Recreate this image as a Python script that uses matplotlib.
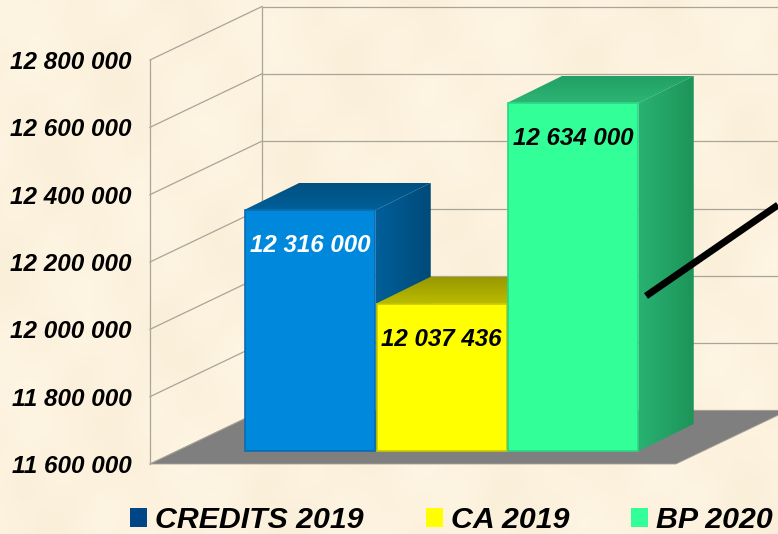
import numpy as np
import matplotlib
matplotlib.use('Agg')
import matplotlib.pyplot as plt
from matplotlib.patches import Polygon, Patch

categories = ['CREDITS 2019', 'CA 2019', 'BP 2020']
values = [12316000, 12037436, 12634000]
tick_values = [11600000, 11800000, 12000000, 12200000, 12400000, 12600000, 12800000]
tick_labels = ['11 600 000', '11 800 000', '12 000 000', '12 200 000', '12 400 000', '12 600 000', '12 800 000']
value_labels = ['12 316 000', '12 037 436', '12 634 000']
label_colors = ['white', 'black', 'black']
front_colors = ['#0088DD', '#FFFF00', '#33FF99']
legend_colors = ['#004586', '#FFFF00', '#33FF99']
edge_colors = ['#0A6CAF', '#C9C900', '#2BD684']
top_colors = [('#00507F', '#005F9A'), ('#989800', '#BBBB00'), ('#22A065', '#2DB575')]
side_colors = [('#005F9A', '#004A78'), ('#A8A800', '#909000'), ('#28B272', '#1E9459')]

W, H = 778, 534
plt.rcParams['font.family'] = ['Liberation Sans', 'DejaVu Sans']
plt.rcParams['font.weight'] = 'bold'
plt.rcParams['font.style'] = 'italic'

fig = plt.figure(figsize=(W / 100, H / 100), dpi=100)

# fond parchemin, juste des ondes douces
yy, xx = np.mgrid[0:H, 0:W]
tex = (np.sin(xx / 37.0 + yy / 53.0) + np.sin(xx / 19.0 - yy / 29.0 + 1.3)
       + 0.7 * np.sin(xx / 11.0 + yy / 13.0) * np.sin(yy / 41.0 - xx / 67.0))
base = np.array([252, 242, 222]) / 255.0
tint = np.array([0.7, 1.1, 2.0]) / 255.0
bg = np.clip(base[None, None, :] + tex[:, :, None] * tint[None, None, :], 0, 1)
fig.figimage(bg, zorder=-5)

ax = fig.add_axes([150 / W, (H - 464) / H, 526 / W, 404 / H])
ax.patch.set_alpha(0)
ax.set_xlim(-1, 3)
ax.set_ylim(tick_values[0], tick_values[-1])
for s in ax.spines.values():
    s.set_visible(False)

px_x = 4 / 526.0
px_y = (tick_values[-1] - tick_values[0]) / 404.0
wall = '#A9A498'


def dep(x, v, dx, dy):
    # decalage en profondeur, en pixels
    return x + dx * px_x, v + dy * px_y


# murs
x0 = ax.get_xlim()[0]
for t in tick_values:
    bx, by = dep(x0, t, 112, 53.5)
    ax.plot([x0, bx], [t, by], color=wall, lw=0.9, clip_on=False, zorder=1)
    ax.plot([bx, bx + 600 * px_x], [by, by], color=wall, lw=0.9, clip_on=False, zorder=1)
ax.plot([x0, x0], [tick_values[0], tick_values[-1]], color=wall, lw=0.9, clip_on=False, zorder=1)
bx, by0 = dep(x0, tick_values[0], 112, 53.5)
ax.plot([bx, bx], [by0, tick_values[-1] + 53.5 * px_y], color=wall, lw=0.9, clip_on=False, zorder=1)

# sol
x1 = ax.get_xlim()[1]
v0 = tick_values[0]
floor = [(x0, v0), (x1, v0), dep(x1, v0, 112, 53.5), dep(x0, v0, 112, 53.5)]
ax.add_patch(Polygon(floor, closed=True, facecolor='#7F7F7F', edgecolor='#A9A498', lw=0.6,
                     clip_on=False, zorder=2))


def shaded(pts, c1, c2, vertical, z):
    pts = np.array(pts)
    a = np.array(matplotlib.colors.to_rgb(c1))
    b = np.array(matplotlib.colors.to_rgb(c2))
    t = np.linspace(0, 1, 64)
    grad = a[None, :] * (1 - t[:, None]) + b[None, :] * t[:, None]
    img = grad[:, None, :] if vertical else grad[None, :, :]
    extent = [pts[:, 0].min(), pts[:, 0].max(), pts[:, 1].min(), pts[:, 1].max()]
    im = ax.imshow(img, extent=extent, origin='upper', aspect='auto', zorder=z, interpolation='bilinear')
    clip = Polygon(pts, closed=True, transform=ax.transData)
    im.set_clip_path(clip)
    im.set_clip_box(fig.bbox)


# barres : face avant decalee, 56 px d'epaisseur
fx, fy = 28.5, 13
for i, v in enumerate(values):
    left = i - 0.5
    right = i + 0.5
    z = 3 + i * 0.1
    bot = v0
    top_pts = [dep(left, v, fx, fy), dep(right, v, fx, fy), dep(right, v, fx + 55, fy + 27), dep(left, v, fx + 55, fy + 27)]
    side_pts = [dep(right, bot, fx, fy), dep(right, v, fx, fy), dep(right, v, fx + 55, fy + 27), dep(right, bot, fx + 55, fy + 27)]
    shaded(top_pts, top_colors[i][0], top_colors[i][1], True, z)
    shaded(side_pts, side_colors[i][0], side_colors[i][1], False, z + 0.01)
    bx, by = dep(i, bot, fx, fy)
    ax.bar(bx, v - v0, bottom=by, width=1 - 1.5 * px_x, color=front_colors[i], edgecolor=edge_colors[i],
           linewidth=1.2, zorder=z + 0.02, clip_on=False)
    tx, ty = dep(i, v, fx, fy - 36)
    ax.text(tx, ty, value_labels[i], color=label_colors[i], fontsize=17.4, ha='center', va='center',
            zorder=6, clip_on=False)

ax.set_xlim(x0, x1)
ax.set_ylim(tick_values[0], tick_values[-1])
ax.set_xticks([])
ax.set_yticks(tick_values)
ax.set_yticklabels(tick_labels, fontsize=17.5)
ax.tick_params(axis='y', length=0, pad=13.5)

handles = [Patch(facecolor=c, edgecolor='none') for c in legend_colors]
fig.legend(handles, categories, loc='lower left', bbox_to_anchor=(130 / W, 0 / H), ncol=3, frameon=False,
           fontsize=21.8, handlelength=0.57, handleheight=0.6, handletextpad=0.27, columnspacing=2.03,
           borderpad=0, borderaxespad=0, labelspacing=0)

# trait noir de la fleche
fig.add_artist(plt.Line2D([646 / W, 778 / W], [(H - 296) / H, (H - 205) / H], color='black', lw=5,
                          solid_capstyle='butt', zorder=8))

fig.savefig('out.png', dpi=100)
